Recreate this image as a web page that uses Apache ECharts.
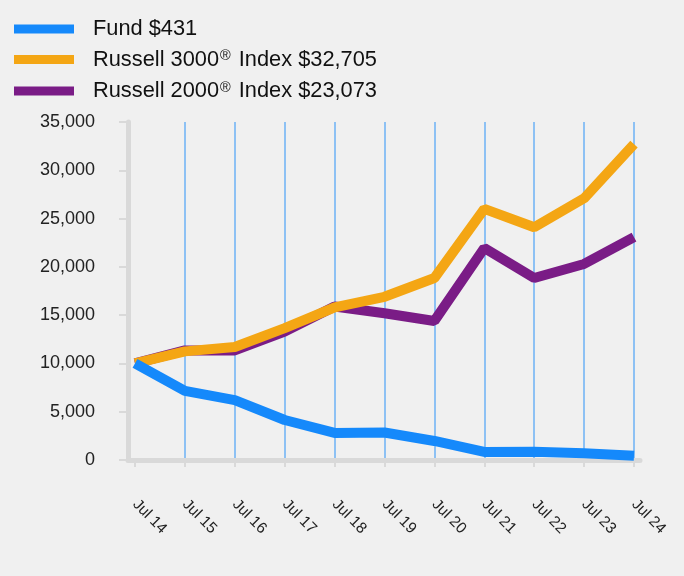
<!DOCTYPE html>
<html>
<head>
<meta charset="utf-8">
<style>
html,body{margin:0;padding:0;background:#f0f0f0;}
#chart{width:684px;height:576px;}
</style>
<script src="https://cdn.jsdelivr.net/npm/echarts@6/dist/echarts.min.js"></script>
</head>
<body>
<div id="chart"></div>
<script>
const categories = ['Jul 14','Jul 15','Jul 16','Jul 17','Jul 18','Jul 19','Jul 20','Jul 21','Jul 22','Jul 23','Jul 24'];
const fundName = 'Fund $431';
const r3000Name = 'Russell 3000® Index $32,705';
const r2000Name = 'Russell 2000® Index $23,073';
const fund = [10000, 7150, 6200, 4140, 2800, 2850, 1970, 830, 850, 700, 431];
const r3000 = [10000, 11250, 11700, 13650, 15800, 16900, 18850, 26000, 24100, 27100, 32705];
const r2000 = [10000, 11350, 11350, 13300, 15900, 15200, 14400, 21950, 18850, 20300, 23073];
const yTicks = [0, 5000, 10000, 15000, 20000, 25000, 30000, 35000];

const chart = echarts.init(document.getElementById('chart'), null, {renderer:'canvas'});
const gray = '#d9d9d9';
const font = 'Liberation Sans, Arial, sans-serif';
chart.setOption({
  backgroundColor: '#f0f0f0',
  animation: false,
  legend: {
    orient: 'vertical',
    left: 9,
    top: 13,
    itemWidth: 60,
    itemHeight: 9,
    itemGap: 8.5,
    icon: 'rect',
    data: [fundName, r3000Name, r2000Name],
    formatter: function (n) { return n.replace('®', '{sup|®}'); },
    textStyle: {
      fontFamily: font,
      fontSize: 21.8,
      lineHeight: 22,
      color: '#111',
      padding: [0, 0, 0, 14],
      rich: {
        sup: { fontSize: 14.5, lineHeight: 22, verticalAlign: 'top', color: '#111', fontFamily: font, padding: [0,2,8,1] }
      }
    }
  },
  grid: [
    { left: 135, right: 50, top: 122, bottom: 116 },
    { left: 128, right: 44, top: 122, bottom: 116 }
  ],
  xAxis: [
    {
      type: 'category', gridIndex: 0, data: categories, boundaryGap: false,
      axisLine: { show: false },
      axisTick: { show: true, length: 7, lineStyle: { color: gray, width: 2 } },
      axisLabel: { rotate: -45, margin: 42, fontSize: 15.5, color: '#222', fontFamily: font },
      splitLine: { show: true, interval: function (i) { return i > 0; }, lineStyle: { color: '#6db2f6', width: 1.5 } }
    },
    {
      type: 'value', gridIndex: 1, min: 0, max: 1,
      axisLine: { show: true, lineStyle: { color: gray, width: 5 } },
      axisTick: { show: false }, axisLabel: { show: false }, splitLine: { show: false }
    }
  ],
  yAxis: [
    {
      type: 'value', gridIndex: 0, min: 0, max: 35000, interval: 5000,
      axisLine: { show: false }, axisTick: { show: false }, axisLabel: { show: false }, splitLine: { show: false }
    },
    {
      type: 'value', gridIndex: 1, min: yTicks[0], max: yTicks[yTicks.length - 1], interval: 5000,
      axisLine: { show: true, lineStyle: { color: gray, width: 5 } },
      axisTick: { show: true, length: 9, lineStyle: { color: gray, width: 2 } },
      axisLabel: {
        margin: 33, fontSize: 18, color: '#222', fontFamily: font,
        formatter: function (v) { return v.toLocaleString('en-US'); }
      },
      splitLine: { show: false }
    }
  ],
  series: [
    { name: r2000Name, type: 'line', data: r2000, xAxisIndex: 0, yAxisIndex: 0, showSymbol: false, symbol: 'none',
      lineStyle: { color: '#7a1c86', width: 10 }, itemStyle: { color: '#7a1c86' }, z: 3 },
    { name: r3000Name, type: 'line', data: r3000, xAxisIndex: 0, yAxisIndex: 0, showSymbol: false, symbol: 'none',
      lineStyle: { color: '#f4a614', width: 10 }, itemStyle: { color: '#f4a614' }, z: 4 },
    { name: fundName, type: 'line', data: fund, xAxisIndex: 0, yAxisIndex: 0, showSymbol: false, symbol: 'none',
      lineStyle: { color: '#1589fb', width: 10 }, itemStyle: { color: '#1589fb' }, z: 5 }
  ]
});
</script>
</body>
</html>
